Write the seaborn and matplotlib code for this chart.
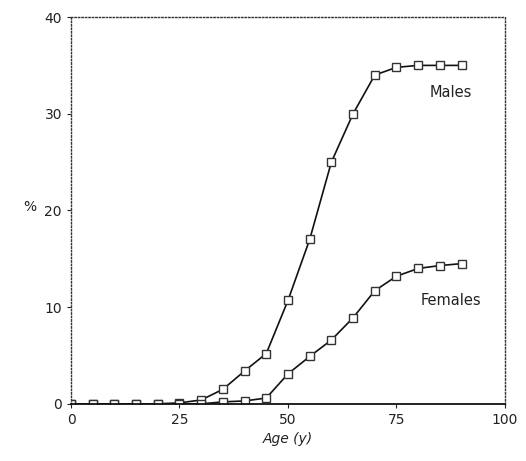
import matplotlib
matplotlib.use("Agg")
import matplotlib.pyplot as plt
import seaborn as sns
import pandas as pd

ages = [0, 5, 10, 15, 20, 25, 30, 35, 40, 45, 50, 55, 60, 65, 70, 75, 80, 85, 90]
males = [0, 0, 0, 0, 0, 0.1, 0.4, 1.5, 3.4, 5.2, 10.7, 17.0, 25.0, 30.0, 34.0, 34.8, 35.0, 35.0, 35.0]
females = [0, 0, 0, 0, 0, 0, 0, 0.2, 0.3, 0.6, 3.1, 4.9, 6.6, 8.9, 11.7, 13.2, 14.0, 14.3, 14.5]
x_ticks = [0, 25, 50, 75, 100]
y_ticks = [0, 10, 20, 30, 40]

df = pd.DataFrame({
    "age": ages * 2,
    "pct": males + females,
    "sex": ["Males"] * len(ages) + ["Females"] * len(ages),
})

sns.set_style("ticks")
plt.rcParams["font.family"] = ["DejaVu Sans"]

fig = plt.figure(figsize=(5.26, 4.61), dpi=100)
ax = fig.add_axes([0.135, 0.124, 0.825, 0.839])

sns.lineplot(data=df, x="age", y="pct", hue="sex", style="sex",
             palette={"Males": "#111111", "Females": "#111111"},
             markers={"Males": "s", "Females": "s"},
             dashes={"Males": "", "Females": ""},
             markersize=6, markerfacecolor="white", markeredgecolor="#333333",
             markeredgewidth=1.0, linewidth=1.2, legend=False, ax=ax)

ax.set_xlim(0, 100)
ax.set_ylim(0, 40)
ax.set_xticks(x_ticks)
ax.set_yticks(y_ticks)
ax.tick_params(axis="both", labelsize=10, length=3, width=0.8, colors="#222222")
ax.set_xlabel("Age (y)", fontsize=10, fontstyle="italic", color="#222222")
ax.set_ylabel("%", fontsize=10, rotation=0, color="#222222", labelpad=14)
ax.yaxis.set_label_coords(-0.095, 0.49)

for s in ["top", "left", "right"]:
    ax.spines[s].set_visible(True)
    ax.spines[s].set_linestyle((0, (1, 1.5)))
    ax.spines[s].set_color("#333333")
    ax.spines[s].set_linewidth(1.0)
ax.spines["bottom"].set_color("#111111")
ax.spines["bottom"].set_linewidth(1.3)

ax.text(87.5, 32.2, "Males", fontsize=10.5, ha="center", va="center", color="#222222")
ax.text(87.5, 10.7, "Females", fontsize=10.5, ha="center", va="center", color="#222222")

fig.savefig("out.png", dpi=100)
